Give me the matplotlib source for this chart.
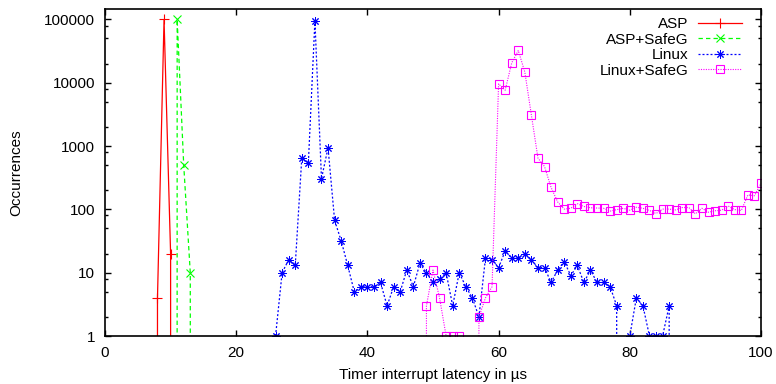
import matplotlib
matplotlib.use("Agg")
import matplotlib.pyplot as plt
from matplotlib.ticker import FixedLocator, FixedFormatter, NullFormatter

plt.rcParams['font.family'] = ['Liberation Sans', 'DejaVu Sans']

# ---- data (latency in µs -> occurrences; 0 = no occurrences) ----
asp_x = [7, 8, 9, 10, 11]
asp_y = [0, 4, 100000, 20, 0]

asp_safeg_x = [10, 11, 12, 13, 14]
asp_safeg_y = [0, 100000, 500, 10, 0]

linux_x = [26, 27, 28, 29, 30, 31, 32, 33, 34, 35, 36, 37, 38, 39, 40, 41, 42, 43,
           44, 45, 46, 47, 48, 49, 50, 51, 52, 53, 54, 55, 56, 57, 58, 59, 60, 61,
           62, 63, 64, 65, 66, 67, 68, 69, 70, 71, 72, 73, 74, 75, 76, 77, 78, 79,
           80, 81, 82, 83, 84, 85, 86, 87]
linux_y = [1, 10, 16, 13, 650, 540, 95000, 305, 940, 67, 32, 13, 5, 6, 6, 6, 7, 3,
           6, 5, 11, 6, 14, 10, 7, 8, 10, 3, 10, 6, 4, 2, 17, 16, 12, 22,
           17, 17, 20, 16, 12, 12, 7, 11, 15, 9, 13, 7, 11, 7, 7, 6, 3, 0,
           1, 4, 3, 1, 1, 1, 3, 0]

linux_safeg_x = [48, 49, 50, 51, 52, 53, 54, 55, 56, 57, 58, 59, 60, 61, 62, 63, 64,
                 65, 66, 67, 68, 69, 70, 71, 72, 73, 74, 75, 76, 77, 78, 79, 80, 81,
                 82, 83, 84, 85, 86, 87, 88, 89, 90, 91, 92, 93, 94, 95, 96, 97, 98,
                 99, 100]
linux_safeg_y = [0, 3, 11, 4, 1, 1, 1, 0, 0, 2, 4, 6, 9600, 7600, 20600, 32300, 14700,
                 3070, 645, 475, 222, 131, 101, 104, 123, 111, 106, 105, 104, 94, 99, 104, 97, 108,
                 104, 96, 86, 101, 101, 98, 107, 107, 85, 104, 90, 95, 97, 113, 99, 96, 169,
                 164, 258]

series_labels = ["ASP", "ASP+SafeG", "Linux", "Linux+SafeG"]
xticks = [0, 20, 40, 60, 80, 100]
yticks = [1, 10, 100, 1000, 10000, 100000]
ytick_labels = ["1", "10", "100", "1000", "10000", "100000"]
yminor = [m * d for d in [1, 10, 100, 1000, 10000, 100000] for m in (2, 5, 8)]

W, H = 776, 384
fig = plt.figure(figsize=(W / 100, H / 100), dpi=100)
ax = fig.add_axes([105 / W, 1 - 336 / H, (761 - 105) / W, (336 - 9) / H])
ax.set_yscale('log', nonpositive='clip')

l1, = ax.plot(asp_x, asp_y, color='#ff0000', lw=0.9, marker='+', ms=7, mew=0.8)
l2, = ax.plot(asp_safeg_x, asp_safeg_y, color='#00ff00', lw=0.9, dashes=(3.5, 2.5),
              marker='x', ms=5.5, mew=0.8)
l3, = ax.plot(linux_x, linux_y, color='#0000ff', lw=0.9, dashes=(1.6, 1.6),
              marker=(8, 2, 0), ms=6, mew=0.7)
l4, = ax.plot(linux_safeg_x, linux_safeg_y, color='#ff00ff', lw=0.8, dashes=(1, 1.2),
              marker='s', ms=6, mew=0.8, mfc='none')

ax.set_xlim(0, 100)
ax.set_ylim(1, 1.46e5)

ax.xaxis.set_major_locator(FixedLocator(xticks))
ax.yaxis.set_major_locator(FixedLocator(yticks))
ax.yaxis.set_major_formatter(FixedFormatter(ytick_labels))
ax.yaxis.set_minor_locator(FixedLocator(yminor))
ax.yaxis.set_minor_formatter(NullFormatter())

ax.tick_params(which='both', direction='in', top=True, right=True, colors='black',
               labelsize=11, width=1.0)
ax.tick_params(axis='x', which='major', length=4, pad=7)
ax.tick_params(axis='y', which='major', length=4.5, pad=7)
ax.tick_params(axis='y', which='minor', length=2.4)
for s in ax.spines.values():
    s.set_linewidth(1.2)
    s.set_color('black')

ax.set_xlabel("Timer interrupt latency in µs", fontsize=11)
ax.set_ylabel("Occurrences", fontsize=11)
ax.xaxis.set_label_coords(0.5, (336 - 368.5) / 327)
ax.yaxis.set_label_coords((23 - 105) / 656, 0.5)

leg = ax.legend([l1, l2, l3, l4], series_labels, loc='upper right',
                bbox_to_anchor=(742 / W, 1 - 17 / H), bbox_transform=fig.transFigure,
                frameon=False, markerfirst=False, fontsize=11, handlelength=2.9,
                handletextpad=0.6, labelspacing=0.1, borderpad=0, borderaxespad=0)
for t in leg.get_texts():
    t.set_ha('right')

fig.savefig("out.png", dpi=100)
